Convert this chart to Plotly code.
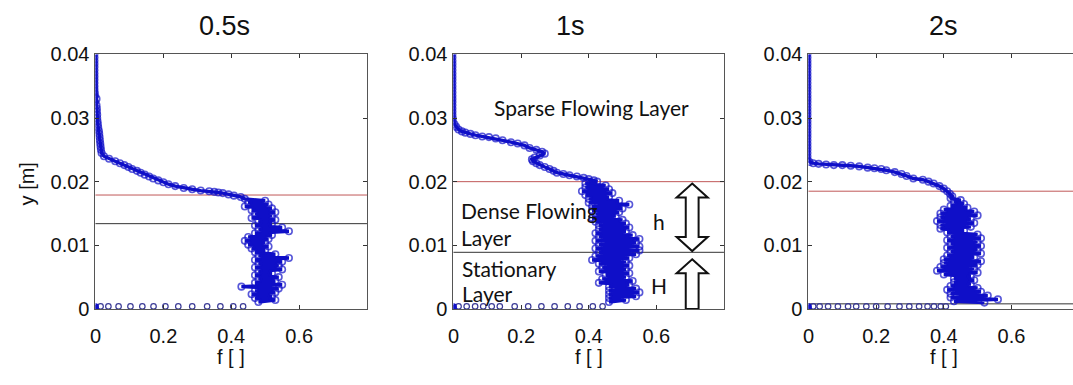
import plotly.graph_objects as go

# ---------------- data ----------------
titles = ["0.5s", "1s", "2s"]

# 0.5 s : solid fraction profile f(y)
y_05 = [0.0400, 0.0395, 0.0390, 0.0385, 0.0380, 0.0375, 0.0370, 0.0365, 0.0360, 0.0355, 0.0350, 0.0345,
        0.0340, 0.0335, 0.0330, 0.0325, 0.0320, 0.0315, 0.0310, 0.0305, 0.0300, 0.0295, 0.0290, 0.0285,
        0.0280, 0.0275, 0.0270, 0.0265, 0.0260, 0.0255, 0.0250, 0.0245, 0.0240,
        0.0236, 0.0232, 0.0229, 0.0226, 0.0223, 0.0220, 0.0217, 0.0214, 0.0211, 0.0208, 0.0205, 0.0202,
        0.0199, 0.0196, 0.0193, 0.0190, 0.0188, 0.0186, 0.0185, 0.0184, 0.0183, 0.0182, 0.0180, 0.0178, 0.0176,
        0.0173, 0.0170, 0.0167, 0.0164, 0.0161, 0.0158, 0.0155, 0.0152, 0.0149, 0.0146, 0.0143, 0.0140,
        0.0137, 0.0134, 0.0131, 0.0128, 0.0125, 0.0122, 0.0119, 0.0116, 0.0113, 0.0110, 0.0107, 0.0104,
        0.0101, 0.0098, 0.0095, 0.0092, 0.0089, 0.0086, 0.0083, 0.0080, 0.0077, 0.0074, 0.0071, 0.0068,
        0.0065, 0.0062, 0.0059, 0.0056, 0.0053, 0.0050, 0.0047, 0.0044, 0.0041, 0.0038, 0.0035, 0.0032,
        0.0029, 0.0026, 0.0023, 0.0020, 0.0017, 0.0014, 0.0011]
f_05 = [0, 0, 0, 0, 0, 0, 0, 0, 0, 0, 0, 0,
        0.001, 0.002, 0.003, 0.002, 0.003, 0.004, 0.004, 0.005, 0.005, 0.006, 0.007, 0.008,
        0.010, 0.011, 0.012, 0.013, 0.014, 0.015, 0.016, 0.018, 0.025,
        0.040, 0.058, 0.072, 0.085, 0.097, 0.108, 0.122, 0.133, 0.145, 0.158, 0.170, 0.185,
        0.200, 0.215, 0.235, 0.260, 0.285, 0.310, 0.335, 0.350, 0.362, 0.375, 0.392, 0.408, 0.428,
        0.44, 0.50, 0.45, 0.51, 0.44, 0.52, 0.46, 0.53, 0.47, 0.52, 0.46, 0.53,
        0.48, 0.52, 0.47, 0.55, 0.48, 0.57, 0.47, 0.52, 0.45, 0.51, 0.44, 0.50,
        0.45, 0.51, 0.46, 0.50, 0.47, 0.53, 0.48, 0.57, 0.47, 0.55, 0.48, 0.54,
        0.47, 0.55, 0.48, 0.52, 0.47, 0.54, 0.48, 0.53, 0.47, 0.55, 0.43, 0.54,
        0.47, 0.53, 0.46, 0.52, 0.47, 0.53, 0.48]
y_05_base = [0.0004] * 13
f_05_base = [0.015, 0.038, 0.068, 0.103, 0.138, 0.171, 0.206, 0.244, 0.285, 0.329, 0.368, 0.406, 0.435]

# 1 s
y_1 = [0.0400, 0.0395, 0.0390, 0.0385, 0.0380, 0.0375, 0.0370, 0.0365, 0.0360, 0.0355, 0.0350, 0.0345,
       0.0340, 0.0335, 0.0330, 0.0325, 0.0320, 0.0315, 0.0310, 0.0305, 0.0300, 0.0295,
       0.0290, 0.0286, 0.0282, 0.0279, 0.0277, 0.0275, 0.0273, 0.0271, 0.0270, 0.0268, 0.0265, 0.0262,
       0.0260, 0.0257, 0.0253, 0.0250, 0.0247, 0.0244, 0.0241, 0.0238, 0.0235, 0.0232, 0.0229, 0.0226,
       0.0223, 0.0220, 0.0217, 0.0214, 0.0212, 0.0210, 0.0208, 0.0206, 0.0204, 0.0202, 0.0200,
       0.0197, 0.0194, 0.0191, 0.0188, 0.0185, 0.0182, 0.0179, 0.0176, 0.0173, 0.0170, 0.0167, 0.0164,
       0.0161, 0.0158, 0.0155, 0.0152, 0.0149, 0.0146, 0.0143, 0.0140, 0.0137, 0.0134, 0.0131, 0.0128,
       0.0125, 0.0122, 0.0119, 0.0116, 0.0113, 0.0110, 0.0107, 0.0104, 0.0101, 0.0098, 0.0095, 0.0092,
       0.0089, 0.0086, 0.0083, 0.0080, 0.0077, 0.0074, 0.0071, 0.0068, 0.0065, 0.0062, 0.0059, 0.0056,
       0.0053, 0.0050, 0.0047, 0.0044, 0.0041, 0.0038, 0.0035, 0.0032, 0.0029, 0.0026, 0.0023, 0.0020,
       0.0017, 0.0014, 0.0011]
f_1 = [0, 0, 0, 0, 0, 0, 0, 0, 0, 0, 0, 0,
       0, 0, 0, 0, 0, 0, 0, 0, 0.001, 0.001,
       0.003, 0.008, 0.015, 0.025, 0.035, 0.050, 0.065, 0.085, 0.105, 0.125, 0.145, 0.170,
       0.190, 0.210, 0.225, 0.245, 0.262, 0.270, 0.255, 0.240, 0.232, 0.235, 0.245, 0.255,
       0.270, 0.284, 0.296, 0.306, 0.325, 0.343, 0.365, 0.385, 0.400, 0.415, 0.425,
       0.39, 0.45, 0.39, 0.46, 0.38, 0.47, 0.39, 0.46, 0.40, 0.49, 0.40, 0.52,
       0.41, 0.50, 0.41, 0.49, 0.42, 0.48, 0.41, 0.50, 0.42, 0.51, 0.43, 0.52,
       0.43, 0.51, 0.42, 0.53, 0.43, 0.55, 0.42, 0.54, 0.43, 0.55, 0.42, 0.55,
       0.43, 0.54, 0.42, 0.52, 0.41, 0.51, 0.43, 0.52, 0.44, 0.51, 0.43, 0.52,
       0.45, 0.51, 0.44, 0.53, 0.43, 0.52, 0.46, 0.54, 0.46, 0.55, 0.46, 0.54,
       0.46, 0.51, 0.46]
y_1_base = [0.0004] * 14
f_1_base = [0.015, 0.039, 0.064, 0.088, 0.113, 0.137, 0.181, 0.221, 0.260, 0.299, 0.338, 0.373, 0.412, 0.441]

# 2 s
y_2 = [0.0400, 0.0395, 0.0390, 0.0385, 0.0380, 0.0375, 0.0370, 0.0365, 0.0360, 0.0355, 0.0350, 0.0345,
       0.0340, 0.0335, 0.0330, 0.0325, 0.0320, 0.0315, 0.0310, 0.0305, 0.0300, 0.0295, 0.0290, 0.0285,
       0.0280, 0.0275, 0.0270, 0.0265, 0.0260, 0.0255, 0.0250, 0.0245, 0.0240, 0.0235,
       0.0231, 0.0229, 0.0228, 0.0227, 0.0226, 0.0226, 0.0225, 0.0224, 0.0222, 0.0221, 0.0220, 0.0218,
       0.0215, 0.0212, 0.0209, 0.0205, 0.0203, 0.0200, 0.0197, 0.0193, 0.0189, 0.0185, 0.0181, 0.0177,
       0.0174, 0.0171, 0.0168, 0.0165, 0.0162, 0.0159, 0.0156, 0.0153, 0.0150, 0.0147, 0.0144, 0.0141,
       0.0138, 0.0135, 0.0132, 0.0129, 0.0126, 0.0123, 0.0120, 0.0117, 0.0114, 0.0111, 0.0108, 0.0105,
       0.0102, 0.0099, 0.0096, 0.0093, 0.0090, 0.0087, 0.0084, 0.0081, 0.0078, 0.0075, 0.0072, 0.0069,
       0.0066, 0.0063, 0.0060, 0.0057, 0.0054, 0.0051, 0.0048, 0.0045, 0.0042, 0.0039, 0.0036, 0.0033,
       0.0030, 0.0027, 0.0024, 0.0021, 0.0018, 0.0015, 0.0012, 0.0010]
f_2 = [0, 0, 0, 0, 0, 0, 0, 0, 0, 0, 0, 0,
       0, 0, 0, 0, 0, 0, 0, 0, 0, 0, 0, 0,
       0, 0, 0, 0, 0, 0, 0, 0, 0, 0,
       0.003, 0.014, 0.030, 0.052, 0.075, 0.100, 0.125, 0.150, 0.175, 0.195, 0.215, 0.230,
       0.255, 0.275, 0.290, 0.310, 0.338, 0.355, 0.370, 0.387, 0.400, 0.410, 0.418, 0.425,
       0.42, 0.45, 0.43, 0.46, 0.42, 0.47, 0.40, 0.49, 0.39, 0.50, 0.39, 0.48,
       0.38, 0.49, 0.39, 0.48, 0.39, 0.46, 0.41, 0.50, 0.42, 0.51, 0.41, 0.50,
       0.42, 0.51, 0.41, 0.50, 0.42, 0.51, 0.41, 0.49, 0.40, 0.51, 0.40, 0.50,
       0.39, 0.49, 0.38, 0.50, 0.40, 0.48, 0.43, 0.49, 0.43, 0.48, 0.42, 0.50,
       0.41, 0.51, 0.42, 0.53, 0.42, 0.56, 0.43, 0.52]
y_2_base = [0.0004] * 16
f_2_base = [0.014, 0.033, 0.058, 0.087, 0.117, 0.141, 0.171, 0.200, 0.234, 0.269, 0.298, 0.327,
            0.352, 0.371, 0.391, 0.406]

f_origin = [0.0, 0.0]
y_origin = [0.0001, 0.0004]

# layer interfaces (m)
y_sparse_dense = [0.0179, 0.0200, 0.0185]      # red line
y_dense_stationary = [0.0134, 0.0089, 0.0008]  # black line

x_tickvals = [0, 0.2, 0.4, 0.6]
x_ticktext = ["0", "0.2", "0.4", "0.6"]
y_tickvals = [0, 0.01, 0.02, 0.03, 0.04]
y_ticktext = ["0", "0.01", "0.02", "0.03", "0.04"]

x_ranges = [[0, 0.8], [0, 0.8], [0, 0.782]]
title_x = [0.38, 0.345, 0.40]

# ---------------- figure ----------------
W, H = 1073, 385
BLUE = "#0f0fc8"
AX = "#555555"
FONT = "Liberation Sans, Arial, sans-serif"

px_left = [90, 450, 807]
px_right = [363, 722, 1073]
ydom = [(385 - 316) / H, (385 - 46) / H]

profiles = [(f_05, y_05, f_05_base, y_05_base), (f_1, y_1, f_1_base, y_1_base), (f_2, y_2, f_2_base, y_2_base)]

fig = go.Figure()
shapes = []
annotations = []
for i, (f, y, fb, yb) in enumerate(profiles):
    n = "" if i == 0 else str(i + 1)
    xa, ya = "x" + n, "y" + n
    # interface lines
    shapes.append(dict(type="line", xref=xa + " domain", yref=ya, x0=0, x1=1,
                       y0=y_sparse_dense[i], y1=y_sparse_dense[i],
                       line=dict(color="#c05858", width=1), layer="below"))
    shapes.append(dict(type="line", xref=xa + " domain", yref=ya, x0=0, x1=1,
                       y0=y_dense_stationary[i], y1=y_dense_stationary[i],
                       line=dict(color="#333333", width=1), layer="below"))
    sizes = [4.5 if v < 0.003 else 6.5 for v in f]
    fig.add_trace(go.Scatter(x=f, y=y, mode="lines+markers", xaxis=xa, yaxis=ya,
                             line=dict(color=BLUE, width=3.4),
                             marker=dict(symbol="circle-open", size=sizes, color=BLUE, line=dict(width=1.6)),
                             showlegend=False, hoverinfo="skip"))
    fig.add_trace(go.Scatter(x=fb, y=yb, mode="markers", xaxis=xa, yaxis=ya,
                             marker=dict(symbol="circle-open", size=5.5, color="#3a3a96", line=dict(width=1.2)),
                             showlegend=False, hoverinfo="skip"))
    fig.add_trace(go.Scatter(x=f_origin, y=y_origin, mode="markers", xaxis=xa, yaxis=ya,
                             marker=dict(symbol="circle", size=6.5, color=BLUE),
                             showlegend=False, hoverinfo="skip"))

    axis_common = dict(showline=True, linecolor=AX, linewidth=1, ticks="inside", ticklen=4,
                       tickcolor="#333", showgrid=False, zeroline=False,
                       tickfont=dict(family=FONT, size=20, color="#111"))
    fig.layout["xaxis" + n] = dict(axis_common, domain=[px_left[i] / W, px_right[i] / W],
                                   range=x_ranges[i], tickvals=x_tickvals, ticktext=x_ticktext,
                                   mirror="ticks", anchor=ya, ticklabelstandoff=9)
    fig.layout["yaxis" + n] = dict(axis_common, domain=ydom, range=[0, 0.04],
                                   tickvals=y_tickvals, ticktext=y_ticktext,
                                   mirror="ticks" if i < 2 else False, anchor=xa,
                                   ticklabelstandoff=1)
    # panel title
    annotations.append(dict(text=titles[i], xref=xa, yref="paper", x=title_x[i], y=(385 - 16) / H,
                            showarrow=False, xanchor="center", yanchor="middle",
                            font=dict(family=FONT, size=27, color="#111")))
    # x-axis title
    annotations.append(dict(text="f [ ]", xref=xa, yref="paper", x=0.4, y=(385 - 367) / H,
                            showarrow=False, xanchor="center", yanchor="middle",
                            font=dict(family=FONT, size=20, color="#111")))

annotations.append(dict(text="y [m]", xref="paper", yref="paper", x=21 / W, y=(385 - 183) / H,
                        textangle=-90, showarrow=False, xanchor="center", yanchor="middle",
                        font=dict(family=FONT, size=20, color="#111")))

# layer labels in the 1 s panel
LFONT = dict(family="Lato, Noto Sans, sans-serif", size=21, color="#111")
labels = [("Sparse Flowing Layer", 0.409, 0.0317, "center"),
          ("Dense Flowing", 0.016, 0.0155, "left"),
          ("Layer", 0.016, 0.0113, "left"),
          ("Stationary", 0.019, 0.0063, "left"),
          ("Layer", 0.019, 0.0024, "left"),
          ("h", 0.609, 0.0138, "center"),
          ("H", 0.609, 0.0037, "center")]
for t, x, y, anc in labels:
    annotations.append(dict(text=t, xref="x2", yref="y2", x=x, y=y, showarrow=False,
                            xanchor=anc, yanchor="middle", font=LFONT))

# block arrows (h and H) in the 1 s panel
cx, hw, sw = 0.706, 0.046, 0.019
top, ht, hb, bot = 0.0197, 0.0175, 0.0113, 0.0091
p1 = (f"M {cx},{top} L {cx+hw},{ht} L {cx+sw},{ht} L {cx+sw},{hb} L {cx+hw},{hb} L {cx},{bot} "
      f"L {cx-hw},{hb} L {cx-sw},{hb} L {cx-sw},{ht} L {cx-hw},{ht} Z")
tip, hb2 = 0.0078, 0.0056
p2 = (f"M {cx},{tip} L {cx+hw},{hb2} L {cx+sw},{hb2} L {cx+sw},0 L {cx-sw},0 L {cx-sw},{hb2} "
      f"L {cx-hw},{hb2} Z")
for p in (p1, p2):
    shapes.append(dict(type="path", xref="x2", yref="y2", path=p,
                       line=dict(color="#111", width=2), fillcolor="white"))

fig.update_layout(width=W, height=H, margin=dict(l=0, r=0, t=0, b=0),
                  paper_bgcolor="white", plot_bgcolor="white",
                  shapes=shapes, annotations=annotations, showlegend=False)

fig.write_html("out.html")
